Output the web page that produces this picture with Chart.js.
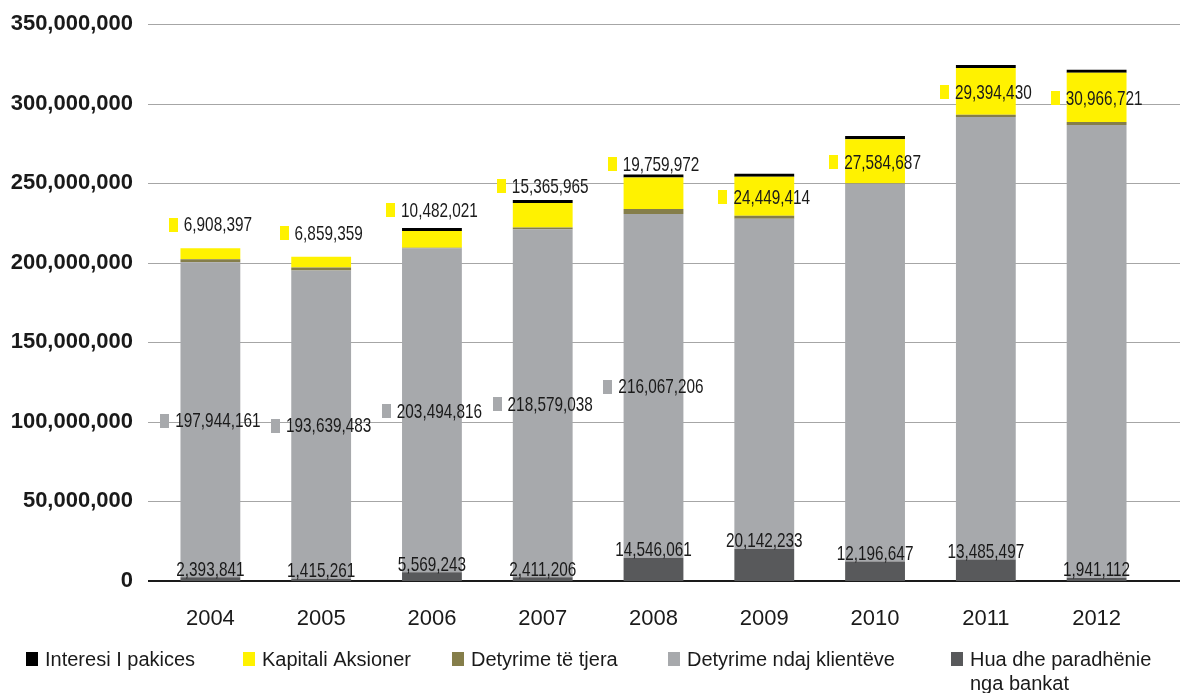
<!DOCTYPE html>
<html>
<head>
<meta charset="utf-8">
<script src="https://cdn.jsdelivr.net/npm/chart.js@4.4.0/dist/chart.umd.min.js"></script>
<style>
  html, body { margin: 0; padding: 0; background: #fff; }
  #wrap { width: 1180px; height: 693px; }
</style>
</head>
<body>
<div id="wrap"><canvas id="myChart" width="1180" height="693"></canvas></div>
<script>
const years = ['2004', '2005', '2006', '2007', '2008', '2009', '2010', '2011', '2012'];

// stacked from the bottom up
const huaBankat = [2393841, 1415261, 5569243, 2411206, 14546061, 20142233, 12196647, 13485497, 1941112];
const detyrimeKlienteve = [197944161, 193639483, 203494816, 218579038, 216067206, 207500000, 237500000, 278100000, 284600000];
const detyrimeTjera = [1900000, 1900000, 400000, 1200000, 3100000, 1900000, 300000, 1400000, 1900000];
const kapitaliAksioner = [6908397, 6859359, 10482021, 15365965, 19759972, 24449414, 27584687, 29394430, 30966721];
const interesiPakices = [0, 0, 1800000, 1800000, 1900000, 1900000, 2000000, 1800000, 1800000];

// client deposits only carry a value label for the first five years
const klienteveLabeled = [true, true, true, true, true, false, false, false, false];

const yMax = 350000000;
const yStep = 50000000;

const fmt = v => Math.round(v).toLocaleString('en-US');

const LABEL_FONT = '21px "Liberation Sans", Arial, sans-serif';
const SQUEEZE = 0.73;
const TEXT_COLOR = '#1a1a1a';

function drawValue(ctx, text, cx, cy, marker) {
    ctx.font = LABEL_FONT;
    const tw = ctx.measureText(text).width * SQUEEZE;
    const mw = marker ? 9 : 0;
    const gap = marker ? 6 : 0;
    const left = cx - (mw + gap + tw) / 2;
    if (marker) {
        ctx.fillStyle = marker;
        ctx.fillRect(Math.round(left), Math.round(cy - 6), mw, 14);
    }
    ctx.save();
    ctx.translate(left + mw + gap, cy + 7.5);
    ctx.scale(SQUEEZE, 1);
    ctx.fillStyle = TEXT_COLOR;
    ctx.textAlign = 'left';
    ctx.textBaseline = 'alphabetic';
    ctx.fillText(text, 0, 0);
    ctx.restore();
}

// grid lines run past the plot edges, out to the tick labels and the right border
const fullGrid = {
    id: 'fullGrid',
    beforeDatasetsDraw(chart) {
        const ctx = chart.ctx;
        const y = chart.scales.y;
        ctx.save();
        y.ticks.forEach(t => {
            const py = Math.round(y.getPixelForValue(t.value));
            ctx.beginPath();
            if (t.value === 0) {
                ctx.strokeStyle = '#1a1a1a';
                ctx.lineWidth = 2;
                ctx.moveTo(148, py);
                ctx.lineTo(chart.width, py);
            } else {
                ctx.strokeStyle = '#a6a6a6';
                ctx.lineWidth = 1;
                ctx.moveTo(148, py + 0.5);
                ctx.lineTo(chart.width, py + 0.5);
            }
            ctx.stroke();
        });
        ctx.restore();
    }
};

const valueLabels = {
    id: 'valueLabels',
    afterDatasetsDraw(chart) {
        const ctx = chart.ctx;
        const ds = chart.data.datasets;
        const hua = chart.getDatasetMeta(0);
        const klient = chart.getDatasetMeta(1);
        const kap = chart.getDatasetMeta(3);
        ctx.save();
        years.forEach((yr, i) => {
            // capital: inside when it fits, otherwise lifted above the bar
            const k = kap.data[i];
            const kh = k.base - k.y;
            const kMid = (k.y + k.base) / 2;
            drawValue(ctx, fmt(ds[3].data[i]), k.x, kh >= 34 ? kMid : kMid - 30, ds[3].backgroundColor);

            if (klienteveLabeled[i]) {
                const c = klient.data[i];
                drawValue(ctx, fmt(ds[1].data[i]), c.x, (c.y + c.base) / 2, ds[1].backgroundColor);
            }

            const h = hua.data[i];
            drawValue(ctx, fmt(ds[0].data[i]), h.x, h.y - 9, null);
        });
        ctx.restore();
    }
};

// legend along the bottom, top series first
const legendSlots = [26, 243, 452, 668, 951];
const bottomLegend = {
    id: 'bottomLegend',
    afterDraw(chart) {
        const ctx = chart.ctx;
        const items = chart.data.datasets.slice().reverse();
        ctx.save();
        ctx.font = '20px "Liberation Sans", Arial, sans-serif';
        ctx.textBaseline = 'alphabetic';
        ctx.textAlign = 'left';
        items.forEach((d, i) => {
            const x = legendSlots[i];
            const next = i < legendSlots.length - 1 ? legendSlots[i + 1] : chart.width;
            const maxW = next - x - 25;
            ctx.fillStyle = d.backgroundColor;
            ctx.fillRect(x, 652, 12, 14);
            ctx.fillStyle = TEXT_COLOR;
            // wrap long names onto a second line
            const words = d.label.split(' ');
            const lines = [];
            let line = '';
            words.forEach(w => {
                const test = line ? line + ' ' + w : w;
                if (ctx.measureText(test).width > maxW && line) {
                    lines.push(line);
                    line = w;
                } else {
                    line = test;
                }
            });
            lines.push(line);
            lines.forEach((l, j) => ctx.fillText(l, x + 19, 666 + j * 24));
        });
        ctx.restore();
    }
};

const ctx = document.getElementById('myChart').getContext('2d');

const myChart = new Chart(ctx, {
    type: 'bar',
    data: {
        labels: years,
        datasets: [
            { label: 'Hua dhe paradhënie nga bankat', data: huaBankat, backgroundColor: '#58595b' },
            { label: 'Detyrime ndaj klientëve', data: detyrimeKlienteve, backgroundColor: '#a7a9ac' },
            { label: 'Detyrime të tjera', data: detyrimeTjera, backgroundColor: '#857e4a' },
            { label: 'Kapitali Aksioner', data: kapitaliAksioner, backgroundColor: '#fff200' },
            { label: 'Interesi I pakices', data: interesiPakices, backgroundColor: '#000000' }
        ]
    },
    options: {
        responsive: false,
        animation: false,
        devicePixelRatio: 1,
        datasets: {
            bar: { categoryPercentage: 1, barPercentage: 0.54, borderWidth: 0 }
        },
        layout: {
            padding: { top: 24, right: 28, bottom: 62, left: 0 }
        },
        plugins: {
            legend: { display: false },
            tooltip: { enabled: false }
        },
        scales: {
            x: {
                stacked: true,
                grid: { display: false, drawTicks: false },
                border: { display: false },
                ticks: {
                    color: TEXT_COLOR,
                    padding: 25,
                    font: { family: '"Liberation Sans", Arial, sans-serif', size: 22 }
                },
                afterFit(scale) { scale.height = 50; }
            },
            y: {
                stacked: true,
                min: 0,
                max: yMax,
                grid: { display: false, drawTicks: false },
                border: { display: false },
                ticks: {
                    stepSize: yStep,
                    color: TEXT_COLOR,
                    padding: 22,
                    font: { family: '"Liberation Sans", Arial, sans-serif', size: 22, weight: 'bold' },
                    callback: v => fmt(v)
                },
                afterFit(scale) {
                    scale.width = 155;
                    // only half a label needs to fit above the top tick
                    scale.paddingTop = 13;
                    scale.paddingBottom = 13;
                }
            }
        }
    },
    plugins: [fullGrid, valueLabels, bottomLegend]
});
</script>
</body>
</html>
